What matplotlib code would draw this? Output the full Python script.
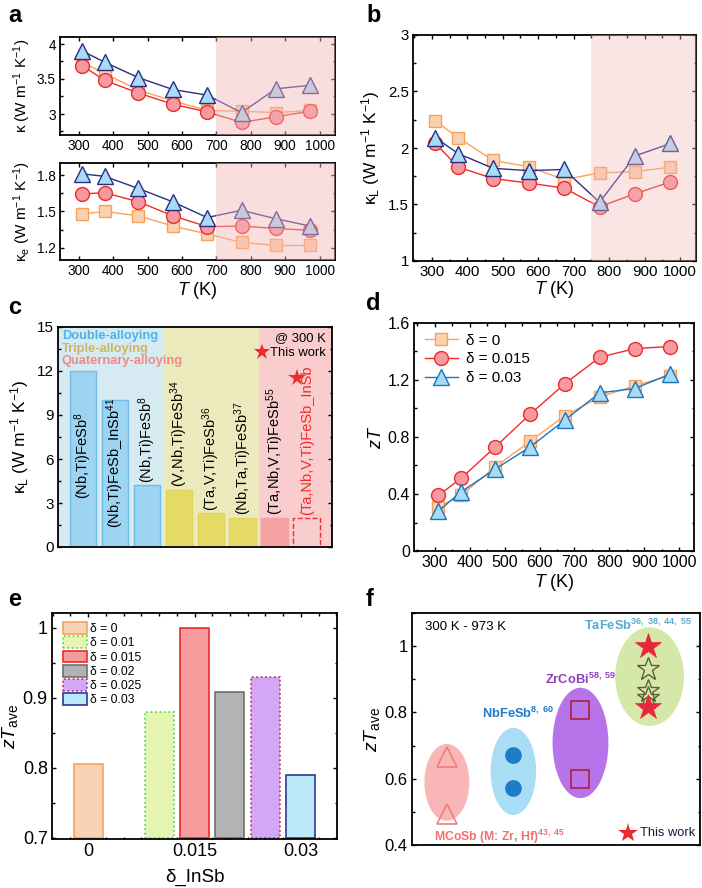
import numpy as np
import matplotlib
matplotlib.use("Agg")
import matplotlib.pyplot as plt
from matplotlib.patches import Ellipse, Patch
from matplotlib.ticker import MultipleLocator, AutoMinorLocator

plt.rcParams['font.family'] = ['Liberation Sans', 'DejaVu Sans']
plt.rcParams['mathtext.fontset'] = 'custom'
plt.rcParams['mathtext.rm'] = 'Liberation Sans'
plt.rcParams['mathtext.it'] = 'Liberation Sans:italic'
plt.rcParams['mathtext.bf'] = 'Liberation Sans:bold'

# ---------------- data ----------------
T = [310, 375, 473, 573, 673, 773, 873, 973]
kappa_d0 = [3.74, 3.58, 3.34, 3.19, 3.05, 3.04, 3.02, 3.05]
kappa_d015 = [3.69, 3.48, 3.30, 3.14, 3.03, 2.88, 2.96, 3.04]
kappa_d03 = [3.90, 3.74, 3.52, 3.35, 3.27, 3.02, 3.36, 3.41]
kappae_d0 = [1.48, 1.50, 1.465, 1.38, 1.315, 1.245, 1.22, 1.22]
kappae_d015 = [1.645, 1.655, 1.58, 1.465, 1.375, 1.38, 1.36, 1.345]
kappae_d03 = [1.81, 1.79, 1.69, 1.58, 1.45, 1.51, 1.44, 1.38]
kappaL_d0 = [2.24, 2.09, 1.89, 1.835, 1.72, 1.78, 1.79, 1.83]
kappaL_d015 = [2.04, 1.83, 1.73, 1.69, 1.645, 1.48, 1.595, 1.70]
kappaL_d03 = [2.09, 1.95, 1.82, 1.80, 1.81, 1.52, 1.93, 2.04]
zT_d0 = [0.31, 0.39, 0.59, 0.77, 0.95, 1.08, 1.16, 1.23]
zT_d015 = [0.39, 0.51, 0.73, 0.96, 1.175, 1.36, 1.42, 1.435]
zT_d03 = [0.28, 0.415, 0.575, 0.73, 0.92, 1.11, 1.14, 1.24]

c_labels = [r'(Nb,Ti)FeSb$^{8}$', r'(Nb,Ti)FeSb_InSb$^{41}$', r'(Nb,Ti)FeSb$^{8}$',
            r'(V,Nb,Ti)FeSb$^{34}$', r'(Ta,V,Ti)FeSb$^{36}$', r'(Nb,Ta,Ti)FeSb$^{37}$',
            r'(Ta,Nb,V,Ti)FeSb$^{55}$', r'(Ta,Nb,V,Ti)FeSb_InSb']
c_values = [12.0, 10.0, 4.2, 3.9, 2.3, 2.0, 2.0, 2.0]
c_star_value = 11.5

e_delta = [0, 0.01, 0.015, 0.02, 0.025, 0.03]
e_labels = ['δ = 0', 'δ = 0.01', 'δ = 0.015', 'δ = 0.02', 'δ = 0.025', 'δ = 0.03']
e_zTave = [0.805, 0.88, 1.0, 0.908, 0.93, 0.79]

f_groups = ['MCoSb', 'NbFeSb', 'ZrCoBi', 'TaFeSb']
f_MCoSb = [0.665, 0.495]
f_NbFeSb = [0.672, 0.572]
f_ZrCoBi = [0.808, 0.600]
f_TaFeSb_open = [0.93, 0.865, 0.845]
f_TaFeSb_this = [1.0, 0.815]

# ---------------- styles ----------------
sq = dict(marker='s', color='#F7A25C', mfc='#FAD2B0', mec='#F7A25C', ms=9, lw=1.0, mew=1.0)
ci = dict(marker='o', color='#EE2B2B', mfc='#F49AA0', mec='#EE2B2B', ms=10, lw=1.0, mew=1.0)
tr = dict(marker='^', color='#2B2E83', mfc='#A8DBF5', mec='#2B2E83', ms=11, lw=1.0, mew=1.0)
tr_d = dict(marker='^', color='#1B75BC', mfc='#A8DBF5', mec='#1B75BC', ms=11, lw=1.0, mew=1.0)

fig = plt.figure(figsize=(7.02, 8.88), dpi=100)


def style_ax(ax, fs=10):
    ax.tick_params(which='both', direction='in', top=True, right=True, labelsize=fs, pad=3)
    ax.tick_params(which='major', length=3, width=1)
    ax.tick_params(which='minor', length=1.8, width=1)
    for s in ax.spines.values():
        s.set_linewidth(1.3)


def axpx(l, t, r, b):
    W, H = 702, 888
    return fig.add_axes([l / W, 1 - b / H, (r - l) / W, (b - t) / H])


# ---- panel a ----
a1 = axpx(60, 37, 335, 135)
a2 = axpx(60, 163, 335, 260)
for ax, (y0, y1, y2), lim, ticks in [
        (a1, (kappa_d0, kappa_d015, kappa_d03), (2.7, 4.1), [3, 3.5, 4]),
        (a2, (kappae_d0, kappae_d015, kappae_d03), (1.1, 1.9), [1.2, 1.5, 1.8])]:
    ax.plot(T, y0, zorder=3, **sq)
    ax.plot(T, y1, zorder=4, **ci)
    ax.plot(T, y2, zorder=5, **tr)
    ax.axvspan(700, 1050, color='#F3B6B6', alpha=0.45, lw=0, zorder=6)
    ax.set_xlim(245, 1045)
    ax.set_ylim(*lim)
    ax.set_yticks(ticks)
    ax.set_yticklabels([('%g' % v) for v in ticks])
    ax.xaxis.set_major_locator(MultipleLocator(100))
    ax.yaxis.set_minor_locator(AutoMinorLocator(2))
    style_ax(ax, 9.8)
a1.set_ylabel(r'κ (W m$^{-1}$ K$^{-1}$)', fontsize=11, labelpad=3)
a2.set_ylabel(r'κ$_{\rm e}$ (W m$^{-1}$ K$^{-1}$)', fontsize=11, labelpad=3)
a2.set_xlabel(r'$T$ (K)', fontsize=13, labelpad=1)

# ---- panel b ----
b = axpx(413, 35, 696, 261)
b.plot(T, kappaL_d0, zorder=3, **sq)
b.plot(T, kappaL_d015, zorder=4, **ci)
b.plot(T, kappaL_d03, zorder=5, **tr)
b.axvspan(750, 1050, color='#F3B6B6', alpha=0.35, lw=0, zorder=6)
b.set_xlim(247, 1045)
b.set_ylim(1, 3)
b.set_yticks([1, 1.5, 2, 2.5, 3])
b.set_yticklabels(['1', '1.5', '2', '2.5', '3'])
b.xaxis.set_major_locator(MultipleLocator(100))
b.xaxis.set_minor_locator(AutoMinorLocator(2))
b.yaxis.set_minor_locator(AutoMinorLocator(2))
style_ax(b, 10.8)
b.set_ylabel(r'κ$_{\rm L}$ (W m$^{-1}$ K$^{-1}$)', fontsize=12.5, labelpad=4)
b.set_xlabel(r'$T$ (K)', fontsize=13, labelpad=0)

# ---- panel c ----
c = axpx(58, 327, 332, 547)
xs = np.arange(len(c_values))
c.axvspan(-0.78, 2.5, color='#D6EAF1', lw=0, zorder=0)
c.axvspan(2.5, 5.5, color='#ECEABD', lw=0, zorder=0)
c.axvspan(5.5, 7.8, color='#F9CDCD', lw=0, zorder=0)
fills = ['#9DD4F2'] * 3 + ['#E5DB66'] * 3 + ['#F4A2A2', 'none']
edges = ['#70BEE8'] * 3 + ['#E0D45A'] * 3 + ['#F4A2A2', '#EE2B2B']
styles = ['solid'] * 7 + ['dashed']
for i in range(len(c_values)):
    c.bar(xs[i], c_values[i], width=0.82, color=fills[i], edgecolor=edges[i],
          linewidth=1.0, linestyle=styles[i], zorder=2)
label_y = [3.3, 1.3, 4.35, 4.1, 2.45, 2.15, 2.15, 2.15]
for i, lab in enumerate(c_labels):
    col = '#EE2B2B' if i == 7 else 'black'
    c.text(xs[i] + 0.02, label_y[i], lab, rotation=90, ha='center', va='bottom',
           fontsize=10.5, color=col, zorder=4)
c.plot([6.69], [c_star_value], marker='*', color='#EE2B2B', ms=13, mew=0, zorder=5)
c.plot([5.6], [13.3], marker='*', color='#EE2B2B', ms=12, mew=0, zorder=5)
c.text(7.6, 14.25, '@ 300 K', ha='right', va='center', fontsize=9.4)
c.text(7.6, 13.23, 'This work', ha='right', va='center', fontsize=9.4)
c.text(-0.655, 14.36, 'Double-alloying', color='#4FB3E8', fontsize=9.3, fontweight='bold', va='center')
c.text(-0.655, 13.52, 'Triple-alloying', color='#C9B766', fontsize=9.3, fontweight='bold', va='center')
c.text(-0.655, 12.66, 'Quaternary-alloying', color='#F08A8A', fontsize=9.3, fontweight='bold', va='center')
c.set_xlim(-0.78, 7.8)
c.set_ylim(0, 15)
c.set_yticks([0, 3, 6, 9, 12, 15])
c.set_xticks([])
c.yaxis.set_minor_locator(AutoMinorLocator(2))
style_ax(c, 11)
c.tick_params(axis='x', which='both', top=False, bottom=False)
c.set_ylabel(r'κ$_{\rm L}$ (W m$^{-1}$ K$^{-1}$)', fontsize=12.5, labelpad=4)

# ---- panel d ----
d = axpx(414, 323, 694, 551)
d.plot(T, zT_d0, label='δ = 0', zorder=3, **sq)
d.plot(T, zT_d015, label='δ = 0.015', zorder=4, **ci)
d.plot(T, zT_d03, label='δ = 0.03', zorder=5, **tr_d)
d.set_xlim(240, 1043)
d.set_ylim(0, 1.6)
d.set_yticks([0, 0.4, 0.8, 1.2, 1.6])
d.set_yticklabels(['0', '0.4', '0.8', '1.2', '1.6'])
d.xaxis.set_major_locator(MultipleLocator(100))
d.xaxis.set_minor_locator(AutoMinorLocator(2))
d.yaxis.set_minor_locator(AutoMinorLocator(2))
style_ax(d, 11.5)
d.set_ylabel(r'$zT$', fontsize=13, labelpad=2)
d.set_xlabel(r'$T$ (K)', fontsize=13, labelpad=1)
d.legend(loc='upper left', frameon=False, fontsize=11, handlelength=2.2,
         borderaxespad=0.3, labelspacing=0.3, handletextpad=0.5)

# ---- panel e ----
e = axpx(52, 613, 337, 839)
e_fill = ['#F9D4B4', '#E5F4AE', '#F69C9C', '#B3B3B3', '#D4A6F6', '#BDE7FA']
e_edge = ['#F7A25C', '#4CD35C', '#EE2B2B', '#707070', '#C0226A', '#2B3990']
e_ls = ['solid', 'dotted', 'solid', 'solid', 'dotted', 'solid']
handles = []
for i in range(len(e_delta)):
    e.bar(e_delta[i], e_zTave[i] - 0.7, bottom=0.7, width=0.0041, color=e_fill[i],
          edgecolor=e_edge[i], linewidth=1.2, linestyle=e_ls[i], zorder=2)
    handles.append(Patch(facecolor=e_fill[i], edgecolor=e_edge[i], linewidth=1.2,
                         linestyle=e_ls[i], label=e_labels[i]))
e.legend(handles=handles, loc='upper left', frameon=False, fontsize=8.8,
         handlelength=1.9, handleheight=1.1, labelspacing=0.1, handletextpad=0.3,
         borderaxespad=0.0, borderpad=0.0, bbox_to_anchor=(0.04, 0.96))
e.set_xlim(-0.0051, 0.0351)
e.set_ylim(0.698, 1.021)
e.set_xticks([0, 0.015, 0.03])
e.set_xticklabels(['0', '0.015', '0.03'])
e.xaxis.set_minor_locator(MultipleLocator(0.0025))
e.set_yticks([0.7, 0.8, 0.9, 1.0])
e.set_yticklabels(['0.7', '0.8', '0.9', '1'])
e.yaxis.set_minor_locator(AutoMinorLocator(2))
style_ax(e, 13)
e.set_ylabel(r'$zT_{\rm ave}$', fontsize=14, labelpad=2)
e.set_xlabel('δ_InSb', fontsize=13.5, labelpad=6)

# ---- panel f ----
f = axpx(412, 613, 700, 845)
f.set_xlim(0, 10)
f.set_ylim(0.4, 1.1)
ell = [(1.21, 0.589, 1.56, 0.232, '#F9B6B6'),
       (3.52, 0.622, 1.58, 0.263, '#A9DDF6'),
       (5.85, 0.708, 1.94, 0.333, '#B673EA'),
       (8.25, 0.908, 2.39, 0.298, '#D6E8A9')]
for (cx, cy, w, h, col) in ell:
    f.add_patch(Ellipse((cx, cy), w, h, facecolor=col, edgecolor='none', zorder=1))
f.plot([1.21] * 2, f_MCoSb, ls='none', marker='^', ms=15, mfc='none', mec='#F07C7C', mew=1.2, zorder=3)
f.plot([3.52] * 2, f_NbFeSb, ls='none', marker='o', ms=11, mfc='#1E7BC8', mec='#1E7BC8', zorder=3)
f.plot([5.85] * 2, f_ZrCoBi, ls='none', marker='s', ms=13, mfc='none', mec='#B0203A', mew=1.2, zorder=3)
f.plot([8.2] * 3, f_TaFeSb_open, ls='none', marker='*', ms=17, mfc='none', mec='#5E5E3A', mew=1.0, zorder=3)
f.plot([8.2] * 2, f_TaFeSb_this, ls='none', marker='*', ms=19, mfc='#E8283A', mec='#E8283A', mew=0.5, zorder=4)
f.text(0.44, 1.059, '300 K - 973 K', fontsize=9.5, va='center')
f.text(5.98, 1.064, r'TaFeSb$^{\mathbf{36,\ 38,\ 44,\ 55}}$', color='#5AA9CF', fontsize=9.3,
       fontweight='bold', ha='left', va='center')
f.text(4.63, 0.899, r'ZrCoBi$^{\mathbf{58,\ 59}}$', color='#8E3FB8', fontsize=9.3,
       fontweight='bold', va='center')
f.text(2.44, 0.796, r'NbFeSb$^{\mathbf{8,\ 60}}$', color='#1E7BC8', fontsize=9.3,
       fontweight='bold', va='center')
f.text(0.78, 0.424, r'MCoSb (M: Zr, Hf)$^{\mathbf{43,\ 45}}$', color='#F07070', fontsize=8.8,
       fontweight='bold', va='center')
f.plot([7.51], [0.436], marker='*', color='#EE2B2B', ms=15, mew=0, zorder=5)
f.text(7.9, 0.436, 'This work', fontsize=9.3, color='#1A1A40', va='center')
f.set_xticks([])
f.set_yticks([0.4, 0.6, 0.8, 1.0])
f.set_yticklabels(['0.4', '0.6', '0.8', '1'])
f.yaxis.set_minor_locator(AutoMinorLocator(2))
style_ax(f, 12)
f.tick_params(axis='x', which='both', top=False, bottom=False)
f.set_ylabel(r'$zT_{\rm ave}$', fontsize=14, labelpad=2)

# panel letters
for lab, x, y in [('a', 8, 15), ('b', 366, 15), ('c', 8, 308), ('d', 366, 303),
                  ('e', 8, 600), ('f', 366, 600)]:
    fig.text(x / 702, 1 - y / 888, lab, fontsize=17, fontweight='bold', va='center', ha='left')

fig.savefig('out.png', dpi=100)
